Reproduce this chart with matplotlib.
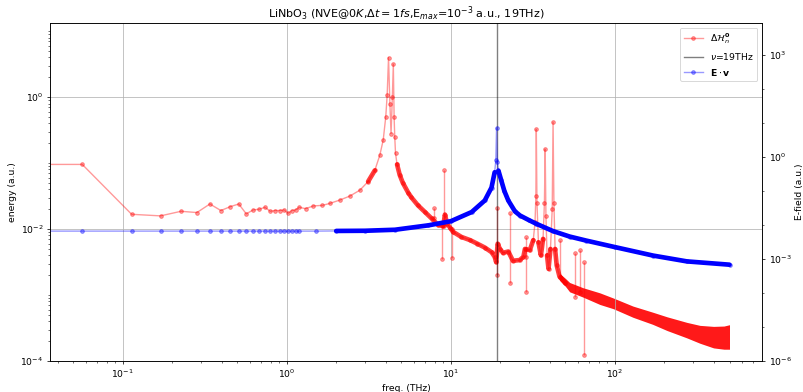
import numpy as np
import matplotlib
matplotlib.use("Agg")
import matplotlib.pyplot as plt
from matplotlib.ticker import LogLocator, NullFormatter

# red: energy spectrum dH_n^0 (left axis)
red_f = np.array([0.0, 0.0566, 0.1132, 0.1698, 0.2264, 0.283, 0.3396, 0.3962, 0.4528, 0.5094,
                  0.566, 0.6226, 0.6792, 0.7358, 0.7924, 0.849, 0.9056, 0.9622, 1.0188, 1.0754,
                  1.132, 1.1886, 1.3, 1.45, 1.65, 1.83, 2.1, 2.42, 2.79, 3.13,
                  3.44, 3.69, 3.87, 4.01, 4.09, 4.17, 4.25, 4.32, 4.40, 4.46,
                  4.51, 4.55, 4.6, 4.7, 4.88, 5.1, 5.5, 5.75, 6.3, 6.94,
                  7.63, 8.37, 9.0, 9.2, 9.5, 9.9, 10.3, 11.6, 13.1, 14.5,
                  16.1, 17.7, 18.5, 18.9, 19.3, 19.9, 20.8, 22.4, 23.9, 26.3,
                  27.7, 28.3, 30.3, 31.8, 32.6, 33.0, 33.2, 33.5, 34.2, 35.4,
                  36.5, 37.2, 37.6, 38.0, 38.6, 39.4, 40.5, 41.5, 42.0, 42.5,
                  43.2, 44.2, 46.0, 50.0])
red_e = np.array([0.0955, 0.0955, 0.01675, 0.01585, 0.0186, 0.0178, 0.024, 0.0191, 0.0219, 0.024,
                  0.017, 0.0195, 0.02, 0.0214, 0.0186, 0.0191, 0.0191, 0.0195, 0.0174, 0.0191,
                  0.0195, 0.0214, 0.0204, 0.0224, 0.0229, 0.0245, 0.0275, 0.0316, 0.0389, 0.0525,
                  0.0776, 0.132, 0.224, 0.50, 1.07, 3.98, 0.79, 0.28, 1.0, 3.16,
                  0.50, 0.25, 0.141, 0.0955, 0.066, 0.050, 0.0355, 0.0302, 0.0229, 0.0182,
                  0.0145, 0.0115, 0.0112, 0.0166, 0.012, 0.0105, 0.0091, 0.0076, 0.0068, 0.006,
                  0.00525, 0.00447, 0.0038, 0.00316, 0.006, 0.005, 0.00437, 0.00457, 0.00331, 0.00339,
                  0.0038, 0.005, 0.00479, 0.0068, 0.0126, 0.0316, 0.324, 0.0251, 0.0063, 0.004,
                  0.0071, 0.0251, 0.162, 0.0158, 0.004, 0.0025, 0.005, 0.02, 0.417, 0.0251,
                  0.005, 0.00282, 0.0019, 0.00151])

# single-bin spikes on top of the red spectrum
spike_f = np.array([7.87, 8.8, 9.06, 10.1, 19.0, 23.1, 28.6, 28.9, 46.0, 57.0, 61.0, 65.0])
spike_lo = np.array([0.0145, 0.00355, 0.0112, 0.00363, 0.002, 0.00151, 0.0038, 0.00112,
                     0.0019, 0.00093, 0.00112, 0.000123])
spike_hi = np.array([0.0209, 0.0112, 0.0776, 0.01, 0.0209, 0.0174, 0.0076, 0.005,
                     0.0068, 0.00427, 0.00479, 0.00316])

# noisy high-frequency part of the red spectrum (lower / upper edge)
band_f = np.array([46, 50, 53, 64, 81, 98, 129, 170, 208, 275, 330, 400, 463, 500])
band_lo = np.array([0.00168, 0.00135, 0.00112, 0.00093, 0.00072, 0.00062, 0.00046, 0.00036,
                    0.00029, 0.000224, 0.000186, 0.000158, 0.000151, 0.000151])
band_hi = np.array([0.00214, 0.00178, 0.00155, 0.00129, 0.00108, 0.0009, 0.00068, 0.00055,
                    0.000468, 0.000385, 0.000347, 0.000335, 0.000339, 0.000355])

# blue: E.v (right axis)
blue_f = np.array([0.0, 0.0566, 0.1132, 0.1698, 0.2264, 0.283, 0.3396, 0.3962, 0.4528, 0.5094,
                   0.566, 0.6226, 0.6792, 0.7358, 0.7924, 0.849, 0.9056, 0.9622, 1.0188, 1.0754,
                   1.132, 1.1886, 1.5, 2.0, 3.0, 4.56, 7.3, 10.0, 13.4, 16.1,
                   17.7, 18.5, 18.8, 19.0, 19.2, 19.5, 20.3, 21.2, 22.4, 24.6,
                   26.4, 30.0, 33.0, 42.0, 53.0, 67.0, 100.0, 171.0, 275.0, 500.0])
blue_e = np.array([0.0066] * 22 +
                  [0.0066, 0.00668, 0.00676, 0.00724, 0.00977, 0.0129, 0.024, 0.0525,
                   0.126, 0.355, 0.794, 7.08, 0.708, 0.398, 0.204, 0.1, 0.0525, 0.0251,
                   0.019, 0.0138, 0.011, 0.0066, 0.00457, 0.00347, 0.00224, 0.00126, 0.00085, 0.00068])

nu = 19

fig, ax = plt.subplots(figsize=(12, 5.86), dpi=66.92)
fig.subplots_adjust(left=0.0623, right=0.949, bottom=0.079, top=0.941)

l1, = ax.plot(red_f, red_e, '.-', color='red', alpha=0.4, ms=8,
              label=r'$\Delta\mathcal{H}^{\mathbf{0}}_n$')
dense = (red_f >= 2.8) & (red_e < 0.1) & ~((red_f > 30) & (red_e > 0.012))
ax.plot(red_f, np.where(dense, red_e, np.nan), color='red', lw=5, alpha=0.75,
        solid_capstyle='round')
ax.vlines(spike_f, spike_lo, spike_hi, color='red', alpha=0.4)
ax.plot(spike_f, spike_hi, '.', color='red', alpha=0.4, ms=8)
ax.plot(spike_f, spike_lo, '.', color='red', alpha=0.4, ms=8)
ax.fill_between(band_f, band_lo, band_hi, color='red', lw=0, alpha=0.9)
l2 = ax.axvline(nu, color='k', alpha=0.5, label=r'$\nu$=19THz')

ax2 = ax.twinx()
l3, = ax2.plot(blue_f, blue_e, '.-', color='blue', alpha=0.4, ms=8,
               label=r'$\mathbf{E}\cdot\mathbf{v}$')
bdense = (blue_f >= 2.0) & (blue_e < 0.5)
ax2.plot(blue_f, np.where(bdense, blue_e, np.nan), color='blue', lw=5,
         solid_capstyle='round')

ax.set_xscale('log')
ax.set_yscale('log')
ax2.set_yscale('log')
ax.set_xlim(0.036, 790)
ax.set_ylim(1e-4, 13.3)
ax2.set_ylim(1e-6, 8.7e3)
ax.set_yticks([1e-4, 1e-2, 1e0])
ax.yaxis.set_minor_locator(LogLocator(base=10, subs=np.arange(1, 10), numticks=30))
ax.yaxis.set_minor_formatter(NullFormatter())
ax2.set_yticks([1e-6, 1e-3, 1e0, 1e3])
ax2.yaxis.set_minor_locator(LogLocator(base=10, subs=(1.0,), numticks=30))
ax2.yaxis.set_minor_formatter(NullFormatter())
ax.xaxis.set_minor_formatter(NullFormatter())
ax.grid(True)

ax.set_xlabel('freq. (THz)')
ax.set_ylabel('energy (a.u.)')
ax2.set_ylabel('E-field (a.u.)')
ax.set_title(r'LiNbO$_3$ (NVE@0$K$,$\Delta t=1fs$,E$_{max}$=10$^{-3}$ a.u., 19THz)')
ax2.legend([l1, l2, l3], [l.get_label() for l in (l1, l2, l3)], loc='upper right')

fig.savefig('out.png')
